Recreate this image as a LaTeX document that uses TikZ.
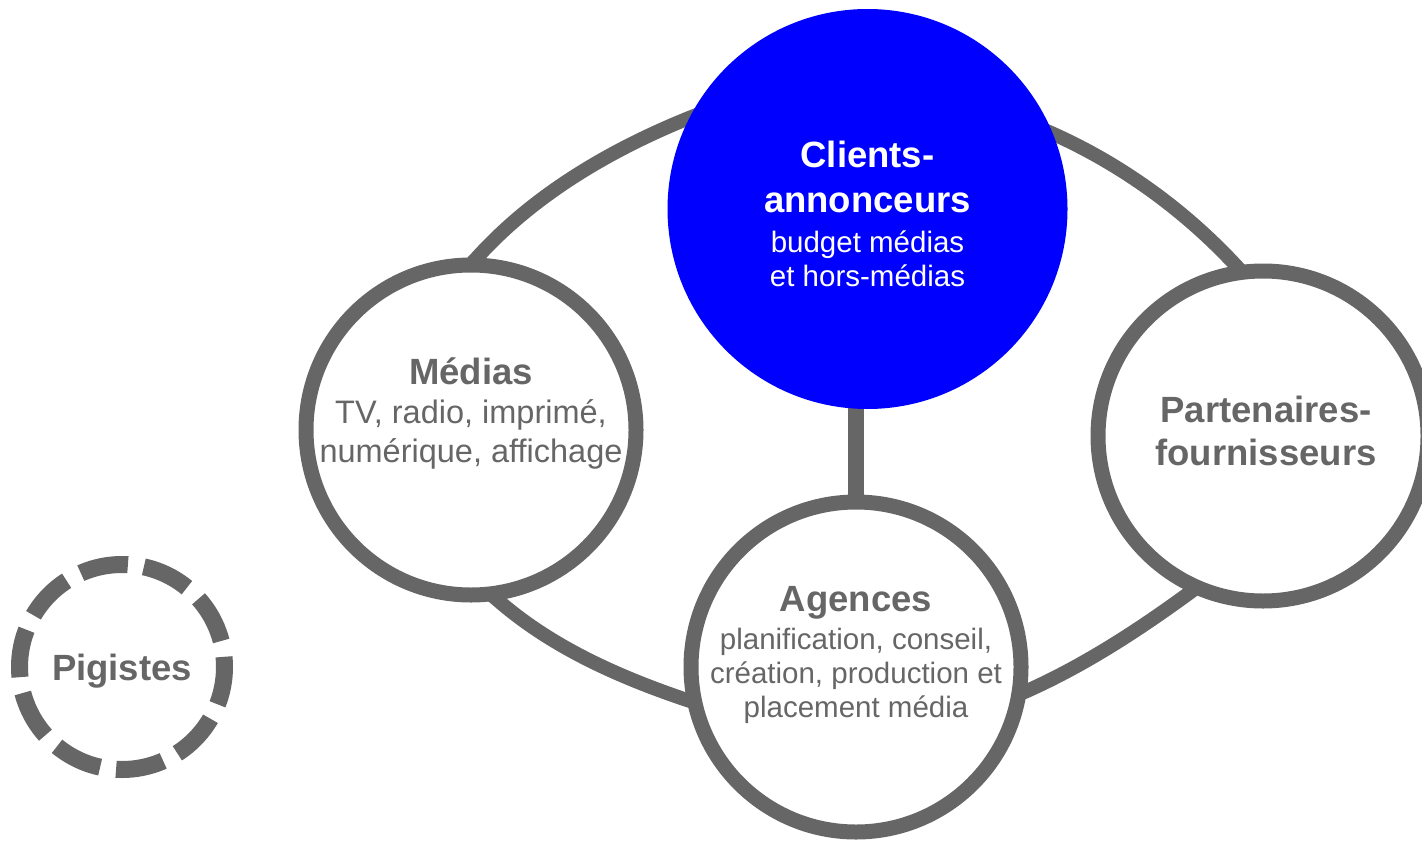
\documentclass[tikz,border=0pt]{standalone}
\usepackage{fontspec}
\setmainfont{Liberation Sans}
\usetikzlibrary{backgrounds,calc}
\definecolor{ringgray}{HTML}{666666}
\definecolor{clientblue}{HTML}{0000FF}
\newcommand{\hdfont}{\bfseries\fontsize{18.25}{20}\selectfont}
\newcommand{\bdfont}{\fontsize{14.75}{17}\selectfont}
\begin{document}
\begin{tikzpicture}[x=0.5pt,y=-0.5pt,
  actor/.style={circle, draw=ringgray, line width=7.5pt, fill=white,
    minimum size=165pt, inner sep=0pt},
  core/.style={circle, fill=clientblue, minimum size=200pt, inner sep=0pt},
  freelance/.style={circle, draw=ringgray, line width=8.5pt, fill=white,
    minimum size=102.5pt, inner sep=0pt,
    dash pattern=on 24.15pt off 8.05pt, dash phase=19.05pt},
  label/.style={align=center, text=ringgray, inner sep=0pt},
  ring/.style={draw=ringgray, line width=7pt},
  link/.style={draw=ringgray, line width=8pt}
]
\useasboundingbox (0,0) rectangle (1422,840);

% the five actors
\node[core]  (clients)  at (867.5,209) {};
\node[actor] (medias)   at (471,430) {};
\node[actor] (partners) at (1263,436) {};
\node[actor] (agences)  at (856,667) {};
\node[freelance] (pigistes) at (122,667) {};

% their captions
\node[label, text=white, font=\bdfont] (clients-text) at (867.5,214)
  {{\hdfont Clients-}\\[5.5pt]{\hdfont annonceurs}\\[3pt]budget médias\\et hors-médias};
\node[label, font=\fontsize{16.25}{19.5}\selectfont] (medias-text) at (471,413)
  {{\hdfont Médias}\\TV, radio, imprimé,\\numérique, affichage};
\node[label, font=\bdfont] (agences-text) at (856,655)
  {{\hdfont Agences}\\[2pt]planification, conseil,\\création, production et\\placement média};
\node[label, font=\bfseries\fontsize{18.25}{21.5}\selectfont] (partners-text) at (1266,431)
  {Partenaires-\\fournisseurs};
\node[label, font=\hdfont] (pigistes-text) at (122,671) {Pigistes};

\begin{scope}[on background layer]
  % ring linking the market actors, one arc between each pair of neighbours
  \draw[ring] ($(medias.88)+(-15,16)$) -- (medias.88)
    .. controls ($(medias.88)+(57,-63)$) and ($(clients.153)+(-79,32)$) .. (clients.153)
    -- ($(clients.153)+(28,-11)$);
  \draw[ring] ($(clients.22.5)+(-27,-12)$) -- (clients.22.5)
    .. controls ($(clients.22.5)+(69,31)$) and ($(partners.99.5)+(-51,-55)$) .. (partners.99.5)
    -- ($(partners.99.5)+(17,18)$);
  \draw[ring] ($(partners.245.4)+(20,-15)$) -- (partners.245.4)
    .. controls ($(partners.245.4)+(-52,38)$) and ($(agences.352.3)+(58,-26)$) .. (agences.352.3)
    -- ($(agences.352.3)+(-23,10)$);
  \draw[ring] ($(agences.191)+(24,8)$) -- (agences.191)
    .. controls ($(agences.191)+(-68,-23)$) and ($(medias.279.2)+(54,47)$) .. (medias.279.2)
    -- ($(medias.279.2)+(-19,-16)$);
  % direct link between clients and agencies
  \draw[link] (agences.center) -- (agences.center |- clients.center);
\end{scope}
\end{tikzpicture}
\end{document}
